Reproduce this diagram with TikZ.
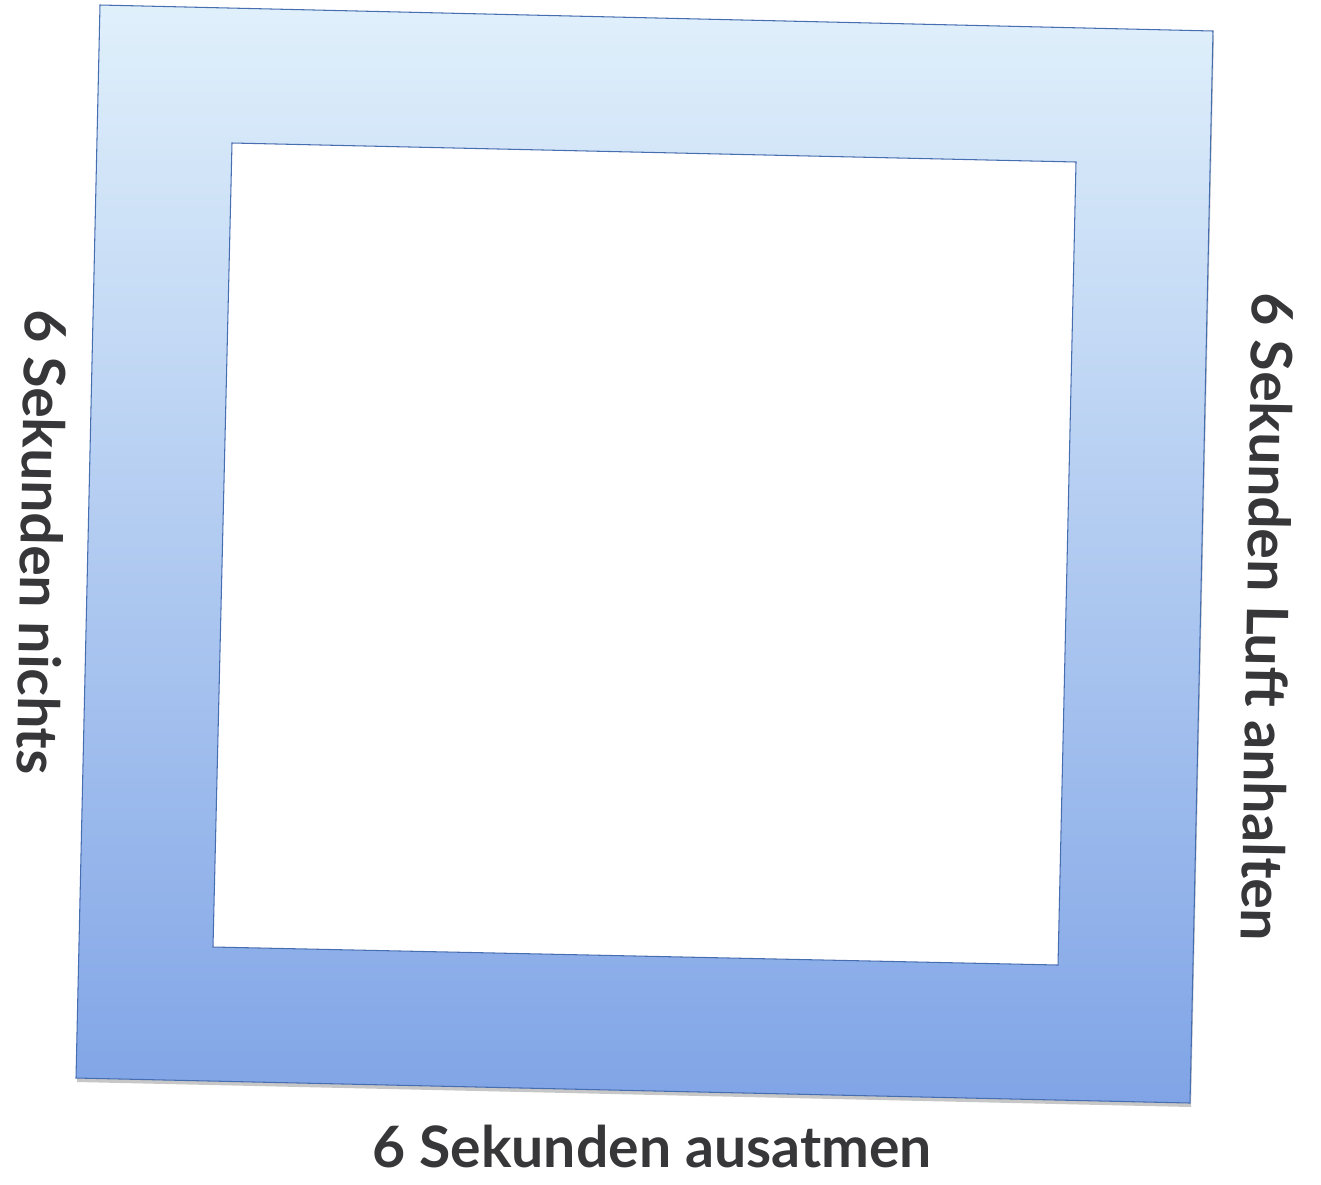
\documentclass[tikz,border=0pt]{standalone}
\usepackage{fontspec}
\setmainfont{Lato}
\usetikzlibrary{positioning,calc}
\definecolor{bfTop}{RGB}{224,240,251}
\definecolor{bfBottom}{RGB}{128,164,230}
\definecolor{bfEdge}{RGB}{72,110,178}
\definecolor{bfInk}{RGB}{55,55,58}
\definecolor{bfShadow}{RGB}{160,162,160}

\begin{document}
\begin{tikzpicture}[x=0.02cm, y=-0.02cm,
    edge/.style={draw=bfEdge, line width=0.6pt},
    label/.style={bfInk, inner sep=0pt, font=\fontsize{32.5}{36}\selectfont\bfseries}]
  \useasboundingbox (0,0) rectangle (1321,1184);

  % Corners of the frame
  \coordinate (otl) at (100,5);
  \coordinate (otr) at (1213,31);
  \coordinate (obr) at (1190,1103);
  \coordinate (obl) at (76,1078);
  \coordinate (itl) at (232,143);
  \coordinate (itr) at (1076,162);
  \coordinate (ibr) at (1058,965);
  \coordinate (ibl) at (213,947);

  % Shadow
  \fill[bfShadow, opacity=0.6] ($(otl)+(1,4)$) -- ($(otr)+(1,4)$) -- ($(obr)+(1,4)$) -- ($(obl)+(1,4)$) -- cycle;

  % Outer frame with gradient
  \shade[top color=bfTop, bottom color=bfBottom] (otl) -- (otr) -- (obr) -- (obl) -- cycle;
  \draw[edge] (otl) -- (otr) -- (obr) -- (obl) -- cycle;

  % Inner opening
  \fill[white] (itl) -- (itr) -- (ibr) -- (ibl) -- cycle;
  \draw[edge] (itl) -- (itr) -- (ibr) -- (ibl) -- cycle;

  % Labels
  \node[label, rotate=-91] (inhale) at (42,542) {6 Sekunden nichts};
  \node[label, rotate=-91] (hold) at (1268,617) {6 Sekunden Luft anhalten};
  \node[label] (exhale) at (652,1146) {6 Sekunden ausatmen};
\end{tikzpicture}
\end{document}
